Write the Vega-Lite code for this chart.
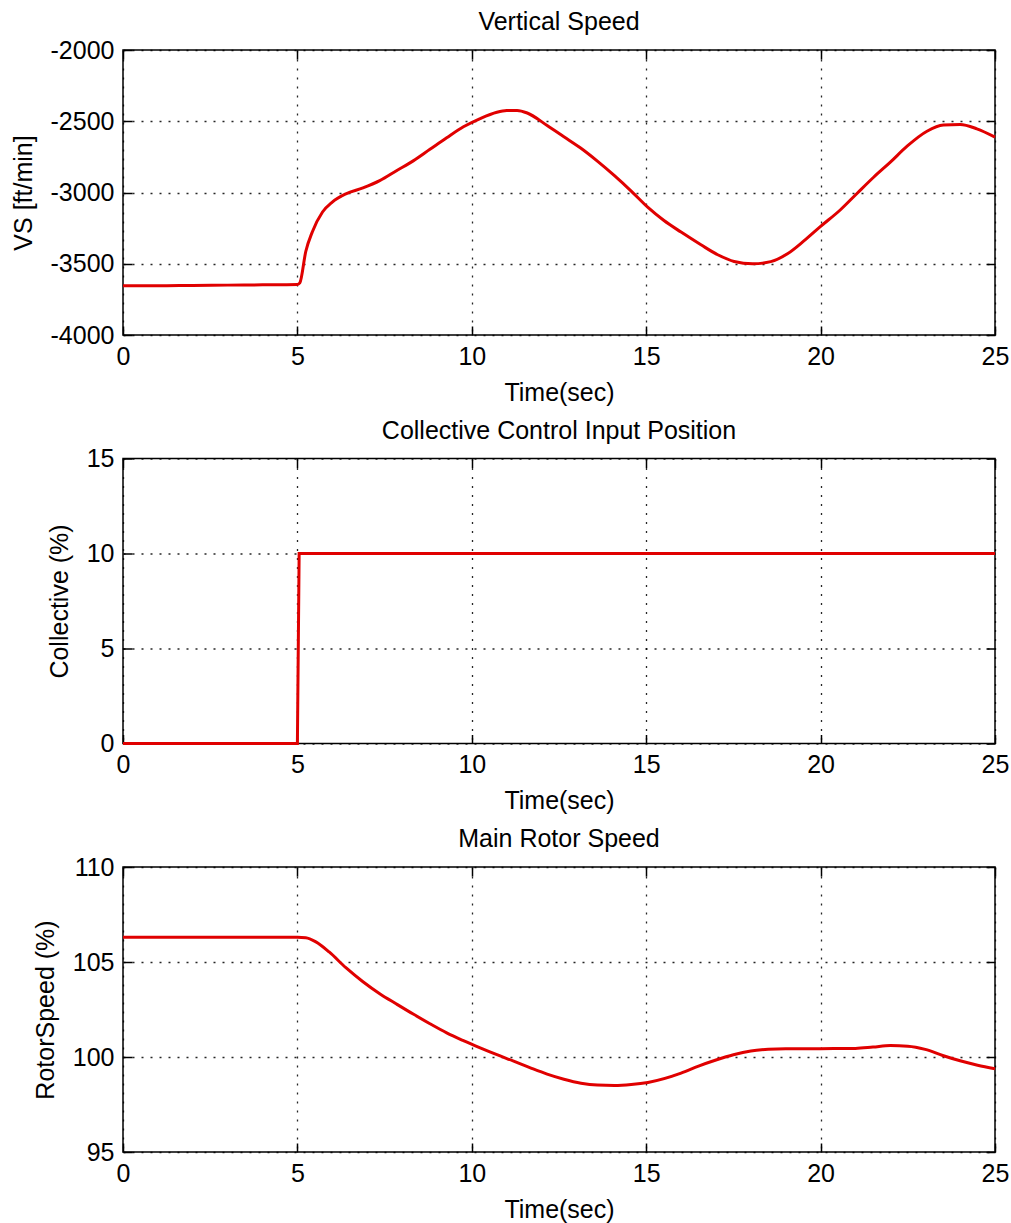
{
  "$schema": "https://vega.github.io/schema/vega-lite/v6.json",
  "padding": {"left": 10, "top": 9, "right": 10, "bottom": 10},
  "background": "#ffffff",
  "datasets": {
    "vs": [
      {"t": 0, "v": -3655}, {"t": 1, "v": -3655}, {"t": 2, "v": -3652}, {"t": 3, "v": -3650},
      {"t": 4, "v": -3648}, {"t": 5, "v": -3645}, {"t": 5.07, "v": -3634}, {"t": 5.24, "v": -3414},
      {"t": 5.43, "v": -3275}, {"t": 5.72, "v": -3137}, {"t": 6.0, "v": -3067}, {"t": 6.39, "v": -3009},
      {"t": 6.88, "v": -2968}, {"t": 7.36, "v": -2917}, {"t": 7.84, "v": -2847}, {"t": 8.32, "v": -2778},
      {"t": 8.8, "v": -2697}, {"t": 9.28, "v": -2616}, {"t": 9.76, "v": -2539}, {"t": 10.24, "v": -2481},
      {"t": 10.72, "v": -2437}, {"t": 11.0, "v": -2425}, {"t": 11.3, "v": -2424}, {"t": 11.59, "v": -2442}, {"t": 12.16, "v": -2530},
      {"t": 12.64, "v": -2609}, {"t": 13.13, "v": -2690}, {"t": 13.6, "v": -2780}, {"t": 14.09, "v": -2882},
      {"t": 14.57, "v": -2990}, {"t": 15.05, "v": -3105}, {"t": 15.5, "v": -3195}, {"t": 16.0, "v": -3278},
      {"t": 16.57, "v": -3367}, {"t": 17.05, "v": -3437}, {"t": 17.52, "v": -3484}, {"t": 18.05, "v": -3500},
      {"t": 18.57, "v": -3485}, {"t": 19.05, "v": -3430}, {"t": 19.52, "v": -3340}, {"t": 20, "v": -3238},
      {"t": 20.57, "v": -3121}, {"t": 21.05, "v": -3005}, {"t": 21.52, "v": -2893}, {"t": 22, "v": -2787},
      {"t": 22.48, "v": -2675}, {"t": 23.05, "v": -2570}, {"t": 23.52, "v": -2527}, {"t": 24, "v": -2523},
      {"t": 24.48, "v": -2553}, {"t": 25, "v": -2611}
    ],
    "col": [
      {"t": 0, "v": 0}, {"t": 5, "v": 0}, {"t": 5.05, "v": 10}, {"t": 25, "v": 10}
    ],
    "rotor": [
      {"t": 0, "v": 106.3}, {"t": 5, "v": 106.3}, {"t": 5.24, "v": 106.28}, {"t": 5.53, "v": 106.06},
      {"t": 5.91, "v": 105.53}, {"t": 6.39, "v": 104.7}, {"t": 6.88, "v": 103.96}, {"t": 7.36, "v": 103.33},
      {"t": 7.84, "v": 102.79}, {"t": 8.32, "v": 102.26}, {"t": 8.8, "v": 101.75}, {"t": 9.28, "v": 101.27},
      {"t": 9.76, "v": 100.86}, {"t": 10.24, "v": 100.48}, {"t": 10.72, "v": 100.12}, {"t": 11.2, "v": 99.78},
      {"t": 11.68, "v": 99.43}, {"t": 12.16, "v": 99.1}, {"t": 12.64, "v": 98.83}, {"t": 13.13, "v": 98.62},
      {"t": 13.6, "v": 98.52}, {"t": 14.09, "v": 98.5}, {"t": 14.57, "v": 98.55}, {"t": 15.05, "v": 98.66},
      {"t": 16, "v": 99.15}, {"t": 16.5, "v": 99.52}, {"t": 17, "v": 99.84}, {"t": 17.5, "v": 100.12},
      {"t": 18, "v": 100.32}, {"t": 18.5, "v": 100.41}, {"t": 19, "v": 100.44}, {"t": 20, "v": 100.44},
      {"t": 21, "v": 100.45}, {"t": 21.5, "v": 100.52}, {"t": 22, "v": 100.6}, {"t": 22.5, "v": 100.57},
      {"t": 23, "v": 100.4}, {"t": 23.5, "v": 100.08}, {"t": 24, "v": 99.8}, {"t": 24.5, "v": 99.57},
      {"t": 25, "v": 99.38}
    ]
  },
  "vconcat": [
    {
      "width": 872, "height": 285,
      "title": {"text": "Vertical Speed"},
      "data": {"name": "vs"},
      "layer": [
        {
          "mark": {"type": "line", "color": "#e00000", "strokeWidth": 3, "interpolate": "monotone"},
          "encoding": {
            "x": {"field": "t", "type": "quantitative", "scale": {"domain": [0, 25], "nice": false},
                  "axis": {"title": "Time(sec)", "values": [0, 5, 10, 15, 20, 25], "grid": true}},
            "y": {"field": "v", "type": "quantitative", "scale": {"domain": [-4000, -2000], "nice": false, "zero": false},
                  "axis": {"title": "VS [ft/min]", "values": [-4000, -3500, -3000, -2500, -2000], "grid": true}}
          }
        },
        {
          "mark": {"type": "line", "opacity": 0},
          "encoding": {
            "x": {"field": "t", "type": "quantitative",
                  "axis": {"orient": "top", "title": null, "labels": false, "grid": false, "values": [0, 5, 10, 15, 20, 25]}},
            "y": {"field": "v", "type": "quantitative",
                  "axis": {"orient": "right", "title": null, "labels": false, "grid": false, "values": [-4000, -3500, -3000, -2500, -2000]}}
          }
        }
      ],
      "resolve": {"axis": {"x": "independent", "y": "independent"}}
    },
    {
      "width": 872, "height": 285,
      "title": {"text": "Collective Control Input Position"},
      "data": {"name": "col"},
      "layer": [
        {
          "mark": {"type": "line", "color": "#e00000", "strokeWidth": 3},
          "encoding": {
            "x": {"field": "t", "type": "quantitative", "scale": {"domain": [0, 25], "nice": false},
                  "axis": {"title": "Time(sec)", "values": [0, 5, 10, 15, 20, 25], "grid": true}},
            "y": {"field": "v", "type": "quantitative", "scale": {"domain": [0, 15], "nice": false},
                  "axis": {"title": "Collective (%)", "values": [0, 5, 10, 15], "grid": true}}
          }
        },
        {
          "mark": {"type": "line", "opacity": 0},
          "encoding": {
            "x": {"field": "t", "type": "quantitative",
                  "axis": {"orient": "top", "title": null, "labels": false, "grid": false, "values": [0, 5, 10, 15, 20, 25]}},
            "y": {"field": "v", "type": "quantitative",
                  "axis": {"orient": "right", "title": null, "labels": false, "grid": false, "values": [0, 5, 10, 15]}}
          }
        }
      ],
      "resolve": {"axis": {"x": "independent", "y": "independent"}}
    },
    {
      "width": 872, "height": 285,
      "title": {"text": "Main Rotor Speed"},
      "data": {"name": "rotor"},
      "layer": [
        {
          "mark": {"type": "line", "color": "#e00000", "strokeWidth": 3, "interpolate": "monotone"},
          "encoding": {
            "x": {"field": "t", "type": "quantitative", "scale": {"domain": [0, 25], "nice": false},
                  "axis": {"title": "Time(sec)", "values": [0, 5, 10, 15, 20, 25], "grid": true}},
            "y": {"field": "v", "type": "quantitative", "scale": {"domain": [95, 110], "nice": false, "zero": false},
                  "axis": {"title": "RotorSpeed (%)", "values": [95, 100, 105, 110], "grid": true}}
          }
        },
        {
          "mark": {"type": "line", "opacity": 0},
          "encoding": {
            "x": {"field": "t", "type": "quantitative",
                  "axis": {"orient": "top", "title": null, "labels": false, "grid": false, "values": [0, 5, 10, 15, 20, 25]}},
            "y": {"field": "v", "type": "quantitative",
                  "axis": {"orient": "right", "title": null, "labels": false, "grid": false, "values": [95, 100, 105, 110]}}
          }
        }
      ],
      "resolve": {"axis": {"x": "independent", "y": "independent"}}
    }
  ],
  "spacing": 123.5,
  "bounds": "flush",
  "config": {
    "font": "Liberation Sans",
    "view": {"stroke": "#000000", "strokeWidth": 1.5},
    "title": {"fontSize": 25, "fontWeight": "normal", "color": "#000000", "font": "Liberation Sans", "baseline": "alphabetic", "offset": 3},
    "axis": {
      "domain": false,
      "ticks": true,
      "tickSize": -9,
      "tickColor": "#000000",
      "tickWidth": 1.5,
      "labelFont": "Liberation Sans",
      "labelFontSize": 25,
      "labelColor": "#000000",
      "labelExpr": "'' + datum.value",
      "labelPadding": 18,
      "labelOverlap": false,
      "labelFlush": false,
      "titleFont": "Liberation Sans",
      "titleFontSize": 25,
      "titleFontWeight": "normal",
      "titleColor": "#000000",
      "gridColor": "#000000",
      "gridDash": [2, 7],
      "gridWidth": 1.3,
      "gridOpacity": 0.85
    },
    "axisY": {"titlePadding": 14},
    "axisX": {"titlePadding": 11}
  }
}
